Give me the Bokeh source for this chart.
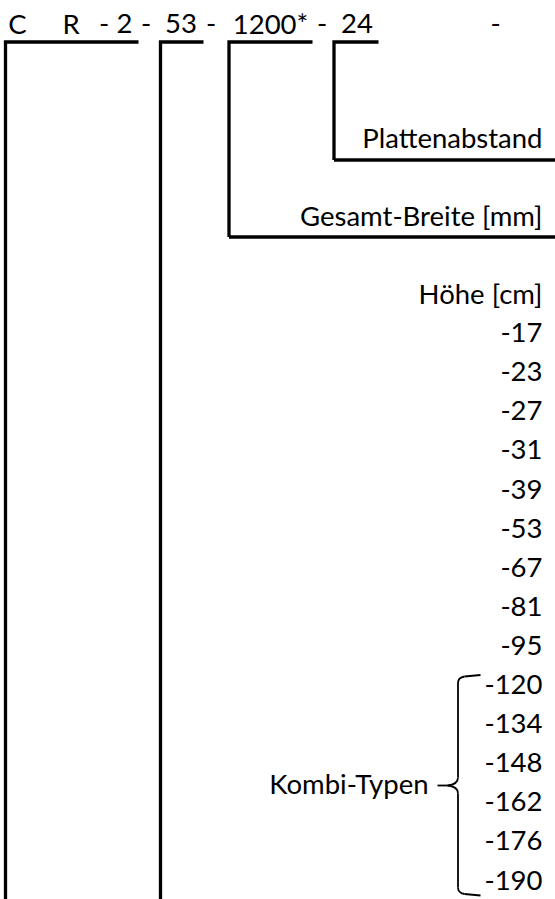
from bokeh.plotting import figure
from bokeh.models import Range1d, ColumnDataSource
from bokeh.core.properties import value
from bokeh.embed import file_html
from bokeh.resources import INLINE

# ---------------- data ----------------
code_tokens = ["C", "R", "-", "2", "-", "53", "-", "1200*", "-", "24", "-"]
field_labels = ["Plattenabstand", "Gesamt-Breite [mm]", "Höhe [cm]"]
heights_cm = [17, 23, 27, 31, 39, 53, 67, 81, 95, 120, 134, 148, 162, 176, 190]
kombi_label = "Kombi-Typen"
kombi_min_height = 120

# ---------------- layout (screen-like coordinates) ----------------
FONT = "Lato"
FS = "27.5px"
TS = -10.0            # correction of the rendered text baseline
token_x = [17, 70.5, 103.5, 124, 145.5, 180.5, 210.5, 270, 321.5, 356.5, 495]
header_base = 33 + TS
row0 = 303.0 + TS     # baseline of "Höhe [cm]"
row_h = 39.1
label_rows = [-4, -2, 0]
right_x = 542
LW = 3.3

W, H = 555, 899
p = figure(width=W, height=H, output_backend="svg", toolbar_location=None,
           x_range=Range1d(0, W), y_range=Range1d(start=H, end=0),
           min_border=0)
p.axis.visible = False
p.grid.visible = False
p.outline_line_color = None
p.background_fill_color = "white"
p.border_fill_color = "white"

# header code
p.text(x=token_x, y=[header_base] * len(code_tokens), text=code_tokens,
       text_font=value(FONT), text_font_size=FS, text_align="center",
       text_baseline="alphabetic", text_color="black")

# field labels
p.text(x=[right_x] * len(field_labels), y=[row0 + k * row_h for k in label_rows],
       text=field_labels, text_font=value(FONT), text_font_size=FS,
       text_align="right", text_baseline="alphabetic", text_color="black")

# heights
h_src = ColumnDataSource(dict(
    x=[right_x] * len(heights_cm),
    y=[row0 + (i + 1) * row_h for i in range(len(heights_cm))],
    t=[f"-{h}" for h in heights_cm]))
p.text(x="x", y="y", text="t", source=h_src, text_font=value(FONT),
       text_font_size=FS, text_align="right", text_baseline="alphabetic",
       text_color="black")

# bracket lines
top_y = 41.5
bottom_y = 905
brackets = [
    # (vertical x, vertical bottom y, horizontal end x)
    (5, bottom_y, 138),
    (160, bottom_y, 203),
    (228.5, 236.5, 312),
    (333.5, 159.5, 378),
]
xs, ys = [], []
for vx, vb, hx in brackets:
    xs.append([vx, vx, hx])
    ys.append([vb, top_y, top_y])
p.multi_line(xs, ys, line_color="black", line_width=LW, line_join="miter", line_cap="butt")
# horizontal run-outs to the right edge
p.multi_line([[228.5, 560], [333.5, 560]], [[236.5, 236.5], [159.5, 159.5]],
             line_color="black", line_width=LW, line_cap="butt")

# Kombi-Typen brace
b_top = 674.5
b_bot = 895
b_mid = 785
bx = 457.5
bw = 1.8
# straight ends
p.segment(x0=[480, 480], y0=[b_top, b_bot], x1=[464, 464], y1=[b_top + 1.5, b_bot - 1.5],
          line_color="black", line_width=bw)
# corners and pointer curves
p.quadratic(x0=[464, bx, bx, 464], y0=[b_top + 1.5, b_mid - 8, b_mid + 8, b_bot - 1.5],
            x1=[bx, 447, 447, bx], y1=[b_top + 8, b_mid, b_mid, b_bot - 8],
            cx=[bx, bx, bx, bx], cy=[b_top + 2.5, b_mid - 1, b_mid + 1, b_bot - 2.5],
            line_color="black", line_width=bw)
# verticals and pointer stem
p.segment(x0=[bx, bx, 437], y0=[b_top + 8, b_mid + 8, b_mid],
          x1=[bx, bx, 447], y1=[b_mid - 8, b_bot - 8, b_mid],
          line_color="black", line_width=bw)
p.text(x=[428], y=[b_mid + 7.5 + TS], text=[kombi_label], text_font=value(FONT),
       text_font_size=FS, text_align="right", text_baseline="alphabetic",
       text_color="black")

open("out.html", "w").write(file_html(p, INLINE))
